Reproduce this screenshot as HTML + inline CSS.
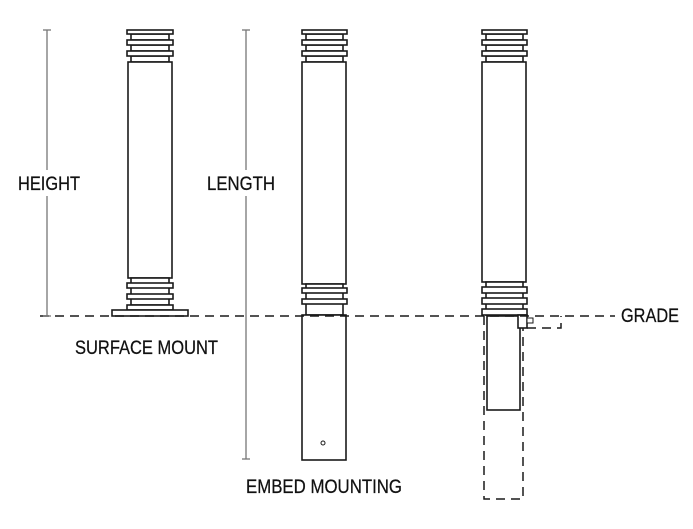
<!DOCTYPE html>
<html><head><meta charset="utf-8"><style>
html,body{margin:0;padding:0;background:#fff;}
svg{display:block;}
text{font-family:"Liberation Sans",sans-serif;font-size:19px;fill:#111;stroke:#111;stroke-width:0.25;}
</style></head><body>
<svg width="693" height="529" viewBox="0 0 693 529" xmlns="http://www.w3.org/2000/svg">
<g fill="#fff" stroke="#1a1a1a" stroke-width="1.6">
<!-- Pole 1 -->
<rect x="131" y="34" width="38" height="6"/><rect x="131" y="45" width="38" height="6"/><rect x="131" y="56" width="38" height="6"/>
<rect x="127" y="30" width="46" height="4"/><rect x="127" y="40" width="46" height="5"/><rect x="127" y="51" width="46" height="5"/>
<rect x="128" y="62" width="44" height="216"/>
<rect x="131" y="278" width="38" height="27"/>
<rect x="127" y="283" width="46" height="5"/><rect x="127" y="294" width="46" height="5"/>
<rect x="127" y="305" width="46" height="5"/>
<rect x="112" y="310" width="76" height="6"/>
<!-- Pole 2 -->
<rect x="306" y="34" width="37" height="6"/><rect x="306" y="45" width="37" height="6"/><rect x="306" y="56" width="37" height="6"/>
<rect x="302" y="30" width="45" height="4"/><rect x="302" y="40" width="45" height="5"/><rect x="302" y="51" width="45" height="5"/>
<rect x="302" y="62" width="44" height="222"/>
<rect x="306" y="284" width="37" height="31"/>
<rect x="302" y="288" width="45" height="5"/><rect x="302" y="299" width="45" height="5"/>
<rect x="302" y="315" width="44" height="145"/>
<circle cx="323" cy="443" r="2" stroke-width="1"/>
<!-- Pole 3 -->
<rect x="486" y="34" width="37" height="6"/><rect x="486" y="45" width="37" height="6"/><rect x="486" y="56" width="37" height="6"/>
<rect x="482" y="30" width="45" height="4"/><rect x="482" y="40" width="45" height="5"/><rect x="482" y="51" width="45" height="5"/>
<rect x="482" y="62" width="44" height="220"/>
<rect x="486" y="282" width="37" height="33"/>
<rect x="482" y="287" width="45" height="6"/><rect x="482" y="298" width="45" height="6"/><rect x="482" y="309" width="45" height="6"/>
<rect x="487" y="316" width="33" height="94"/>
<rect x="518" y="315" width="9" height="13"/>
<rect x="527" y="318" width="6" height="5" stroke-width="1"/>
</g>
<g fill="none" stroke="#1a1a1a" stroke-width="1.5" stroke-dasharray="9,6">
<line x1="40" y1="316" x2="615" y2="316"/>
<path d="M527 328 H561 V316"/>
<path d="M484 316 V499 H523 V328"/>
</g>
<g stroke="#777" stroke-width="1.3">
<line x1="47" y1="30" x2="47" y2="170"/><line x1="47" y1="196" x2="47" y2="316"/>
<line x1="43" y1="30" x2="51" y2="30"/><line x1="43" y1="316" x2="51" y2="316"/>
<line x1="246" y1="30" x2="246" y2="170"/><line x1="246" y1="196" x2="246" y2="459"/>
<line x1="242" y1="30" x2="250" y2="30"/><line x1="242" y1="459" x2="250" y2="459"/>
</g>
<text x="18" y="190" textLength="62" lengthAdjust="spacingAndGlyphs">HEIGHT</text>
<text x="207" y="190" textLength="68" lengthAdjust="spacingAndGlyphs">LENGTH</text>
<text x="75" y="354" textLength="143" lengthAdjust="spacingAndGlyphs">SURFACE MOUNT</text>
<text x="246" y="493" textLength="156" lengthAdjust="spacingAndGlyphs">EMBED MOUNTING</text>
<text x="621" y="322" textLength="58" lengthAdjust="spacingAndGlyphs">GRADE</text>
</svg>
</body></html>
